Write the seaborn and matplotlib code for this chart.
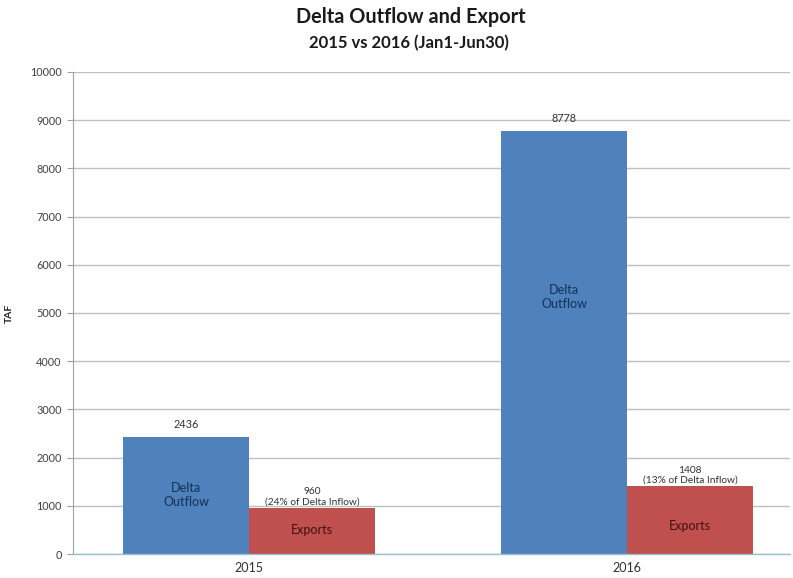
import matplotlib
matplotlib.use("Agg")
import matplotlib.pyplot as plt
import seaborn as sns
import pandas as pd

years = ["2015", "2016"]
series = ["Delta Outflow", "Exports"]
outflow = [2436, 8778]
exports = [960, 1408]
top_labels_outflow = ["2436", "8778"]
top_labels_exports = ["960\n(24% of Delta Inflow)", "1408\n(13% of Delta Inflow)"]
inner_labels = ["Delta\nOutflow", "Exports"]
yticks = list(range(0, 10001, 1000))

df = pd.DataFrame({
    "year": years * 2,
    "series": [series[0]] * 2 + [series[1]] * 2,
    "value": outflow + exports,
})

sns.set_style("white")
plt.rcParams["font.family"] = ["Lato", "DejaVu Sans"]

fig = plt.figure(figsize=(7.93, 5.78), dpi=100)
ax = fig.add_axes([0.092, 0.0415, 0.904, 0.834])

sns.barplot(data=df, x="year", y="value", hue="series", order=years,
            hue_order=series, palette=["#4F81BD", "#C0504D"], width=0.667,
            saturation=1, ax=ax, legend=False, linewidth=0)

ax.set_ylim(0, 10000)
ax.set_xlim(-0.466, 1.43)
ax.set_yticks(yticks)
ax.set_yticklabels([str(t) for t in yticks], fontsize=7.8, color="#404040")
ax.set_xticks(range(len(years)))
ax.set_xticklabels(years, fontsize=9, color="#303030")
ax.tick_params(axis="x", length=0, pad=6)
ax.tick_params(axis="y", length=4, width=0.8, color="#A0A0A0", direction="out", left=True, pad=4)
ax.yaxis.grid(True, color="#BFBFBF", linewidth=1)
ax.set_axisbelow(True)
for s in ["top", "right"]:
    ax.spines[s].set_visible(False)
ax.spines["left"].set_color("#A0A0A0")
ax.spines["left"].set_linewidth(0.8)
ax.spines["bottom"].set_color("#9DBFCB")
ax.spines["bottom"].set_linewidth(1)
ax.set_xlabel("")
ax.set_ylabel("TAF", fontsize=7.5, fontweight="bold", color="#202020", labelpad=12)

# bar annotations
bars_out = ax.containers[0]
bars_exp = ax.containers[1]
inner_frac_out = [0.5, 0.607]
inner_frac_exp = [0.52, 0.41]
for i, b in enumerate(bars_out):
    cx = b.get_x() + b.get_width() / 2
    h = b.get_height()
    ax.annotate(top_labels_outflow[i], (cx, h), xytext=(0, 5), textcoords="offset points",
                ha="center", va="bottom", fontsize=7.8, color="#303030")
    ax.text(cx, h * inner_frac_out[i], inner_labels[0], ha="center", va="center",
            fontsize=9, fontweight="medium", color="#17375E", linespacing=1.2)
for i, b in enumerate(bars_exp):
    cx = b.get_x() + b.get_width() / 2
    h = b.get_height()
    ax.annotate(top_labels_exports[i], (cx, h), xytext=(0, 1), textcoords="offset points",
                ha="center", va="bottom", fontsize=7.3, color="#303030", linespacing=1.15)
    ax.text(cx, h * inner_frac_exp[i], inner_labels[1], ha="center", va="center",
            fontsize=9, fontweight="medium", color="#4A1414")

fig.text(0.518, 0.970, "Delta Outflow and Export", ha="center", va="center",
         fontsize=14.3, fontweight="bold", color="#1a1a1a")
fig.text(0.516, 0.926, "2015 vs 2016 (Jan1-Jun30)", ha="center", va="center",
         fontsize=12, fontweight="bold", color="#1a1a1a")

fig.savefig("out.png", dpi=100)
